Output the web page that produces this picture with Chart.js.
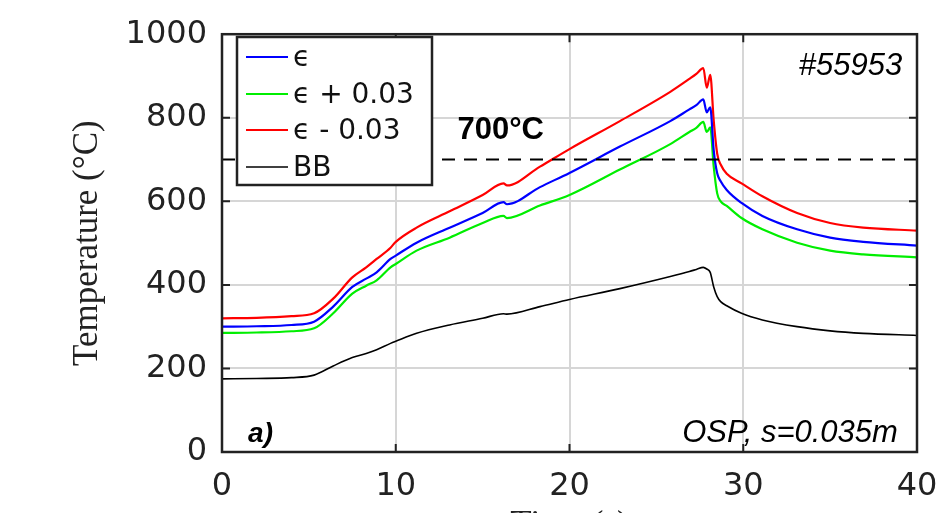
<!DOCTYPE html>
<html>
<head>
<meta charset="utf-8">
<script src="https://cdn.jsdelivr.net/npm/chart.js@4.4.1/dist/chart.umd.min.js"></script>
<style>
    html, body { margin: 0; padding: 0; background: #fff; overflow: hidden; }
</style>
</head>
<body>
<canvas id="chart1" width="943" height="560"></canvas>
<script>
// time axis (s), shared by all four traces
const timeS = [0, 2, 4, 5.3, 6.4, 7.5, 8.3, 8.9, 9.7, 10, 11.2, 13.1, 15, 16.2, 16.4, 18.3, 20, 22.9, 25.8, 26.9, 27.3, 27.7, 27.9, 28.1, 28.3, 28.5, 28.7, 29.05, 29.9, 31.1, 33.1, 35, 36.9, 40];

// temperatures (°C)
const epsTemp      = [300, 301, 304, 312, 348, 395, 415, 430, 462, 470, 501, 537, 572, 598, 593, 634, 668, 731, 792, 820, 830, 844, 813, 825, 722, 667, 648, 627, 596, 565, 533, 513, 503, 494];
const epsPlusTemp  = [285, 286, 289, 296, 332, 379, 398, 411, 442, 450, 482, 513, 548, 565, 560, 590, 615, 676, 737, 766, 776, 790, 766, 777, 683, 619, 600, 589, 560, 533, 501, 482, 473, 466];
const epsMinusTemp = [320, 321, 325, 332, 367, 418, 442, 462, 489, 503, 537, 576, 615, 643, 638, 683, 725, 792, 862, 893, 905, 919, 872, 903, 793, 714, 688, 666, 643, 612, 572, 548, 537, 530];
const bbTemp       = [175, 176, 178, 184, 206, 226, 236, 245, 260, 265, 284, 304, 320, 331, 330, 348, 365, 391, 420, 432, 437, 442, 438, 430, 395, 372, 360, 350, 332, 316, 300, 290, 284, 279];

const limitTime = [0, 40];
const limitTemp = [700, 700];

const seriesNames = ["\u03F5", "\u03F5 + 0.03", "\u03F5 - 0.03", "BB"];
const seriesColors = ["#0000ff", "#00ee00", "#ff0000", "#000000"];

const xTickValues = [10, 20, 30];
const yTickValues = [200, 400, 600, 800];

function pts(xs, ys) {
    return xs.map((x, i) => ({ x: x, y: ys[i] }));
}

const framePlugin = {
    id: "frame",
    afterDatasetsDraw(chart) {
        const ctx = chart.ctx;
        const xs = chart.scales.x;
        const ys = chart.scales.y;
        ctx.save();
        ctx.fillStyle = "#000";
        ctx.textBaseline = "alphabetic";

        ctx.font = "bold 31px 'Liberation Sans', Arial, sans-serif";
        ctx.textAlign = "left";
        ctx.fillText("700\u00B0C", xs.getPixelForValue(13.55), ys.getPixelForValue(748));

        ctx.font = "italic 31px 'Liberation Sans', Arial, sans-serif";
        ctx.textAlign = "right";
        ctx.fillText("#55953", xs.getPixelForValue(39.15), ys.getPixelForValue(903));

        ctx.font = "italic 31px 'Liberation Sans', Arial, sans-serif";
        ctx.fillText("OSP, s=0.035m", xs.getPixelForValue(38.9), ys.getPixelForValue(25));

        ctx.font = "bold italic 28px 'Liberation Sans', Arial, sans-serif";
        ctx.textAlign = "left";
        ctx.fillText("a)", xs.getPixelForValue(1.5), ys.getPixelForValue(25));
        ctx.restore();
    },
    afterDraw(chart) {
        const ctx = chart.ctx;
        const a = chart.chartArea;
        const xs = chart.scales.x;
        const ys = chart.scales.y;
        ctx.save();
        ctx.strokeStyle = "#222";
        ctx.lineWidth = 2.5;
        ctx.strokeRect(a.left, a.top, a.right - a.left, a.bottom - a.top);

        // inward ticks
        ctx.lineWidth = 2;
        ctx.beginPath();
        yTickValues.forEach(v => {
            const py = ys.getPixelForValue(v);
            ctx.moveTo(a.left, py); ctx.lineTo(a.left + 8, py);
            ctx.moveTo(a.right, py); ctx.lineTo(a.right - 8, py);
        });
        xTickValues.forEach(v => {
            const px = xs.getPixelForValue(v);
            ctx.moveTo(px, a.bottom); ctx.lineTo(px, a.bottom - 8);
            ctx.moveTo(px, a.top); ctx.lineTo(px, a.top + 8);
        });
        ctx.stroke();

        // legend box
        const lx = 237, ly = 37, lw = 195, lh = 148;
        ctx.fillStyle = "#fff";
        ctx.fillRect(lx, ly, lw, lh);
        ctx.strokeStyle = "#222";
        ctx.lineWidth = 2.5;
        ctx.strokeRect(lx, ly, lw, lh);

        const rows = [57, 94, 130, 167];
        ctx.font = "28px 'DejaVu Sans', sans-serif";
        ctx.textAlign = "left";
        ctx.textBaseline = "middle";
        seriesNames.forEach((name, i) => {
            ctx.strokeStyle = seriesColors[i];
            ctx.lineWidth = i === 3 ? 1.6 : 2;
            ctx.beginPath();
            ctx.moveTo(246, rows[i]);
            ctx.lineTo(288, rows[i]);
            ctx.stroke();
            ctx.fillStyle = "#111";
            ctx.fillText(name, 293, rows[i] + 2);
        });
        ctx.restore();
    }
};

const series = [epsTemp, epsPlusTemp, epsMinusTemp, bbTemp];

new Chart(document.getElementById("chart1"), {
    type: "line",
    data: {
        datasets: [
            {
                label: "700",
                data: pts(limitTime, limitTemp),
                borderColor: "#000",
                borderWidth: 2,
                borderDash: [13, 9],
                pointRadius: 0
            }
        ].concat(series.map((s, i) => ({
            label: seriesNames[i],
            data: pts(timeS, s),
            borderColor: seriesColors[i],
            borderWidth: i === 3 ? 1.6 : 2.2,
            pointRadius: 0,
            cubicInterpolationMode: "monotone"
        })))
    },
    options: {
        responsive: false,
        animation: false,
        layout: { padding: { left: 45, top: 29, right: 26, bottom: 0 } },
        plugins: {
            legend: { display: false },
            tooltip: { enabled: false }
        },
        scales: {
            x: {
                type: "linear",
                min: 0,
                max: 40,
                ticks: {
                    stepSize: 10,
                    padding: 15,
                    color: "#222",
                    callback: v => String(v),
                    font: { family: "'DejaVu Sans', sans-serif", size: 32 }
                },
                grid: { color: "#d6d6d6", lineWidth: 2, drawTicks: false },
                border: { display: false },
                title: {
                    display: true,
                    text: "Time (s)",
                    color: "#222",
                    font: { family: "'Liberation Serif', 'Times New Roman', serif", size: 35 },
                    padding: { top: 0, bottom: 13 }
                },
                afterFit: s => { s.height = 108; s.paddingLeft = 0; s.paddingRight = 0; }
            },
            y: {
                min: 0,
                max: 1000,
                ticks: {
                    stepSize: 200,
                    padding: 15,
                    color: "#222",
                    callback: v => String(v),
                    font: { family: "'DejaVu Sans', sans-serif", size: 32 }
                },
                grid: { color: "#d6d6d6", lineWidth: 2, drawTicks: false },
                border: { display: false },
                title: {
                    display: true,
                    text: "Temperature (\u00B0C)",
                    color: "#222",
                    font: { family: "'Liberation Serif', 'Times New Roman', serif", size: 35 },
                    padding: { top: 22, bottom: 0 }
                },
                afterFit: s => { s.width = 177; }
            }
        }
    },
    plugins: [framePlugin]
});
</script>
</body>
</html>
